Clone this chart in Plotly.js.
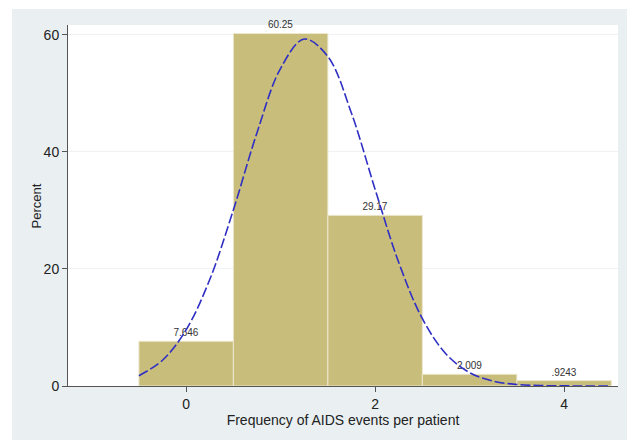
<!DOCTYPE html>
<html>
<head>
<meta charset="utf-8">
<script src="https://cdn.plot.ly/plotly-3.0.1.min.js"></script>
<style>html,body{margin:0;padding:0;background:#fff;}#chart{width:627px;height:440px;}</style>
</head>
<body>
<div id="chart"></div>
<script>
// Histogram bins (AIDS events per patient) and their percentages
var binCenters = [0, 1, 2, 3, 4];
var percents = [7.646, 60.25, 29.17, 2.009, 0.9243];
var barLabels = ["7.646", "60.25", "29.17", "2.009", ".9243"];

// Overlaid normal density curve
var curveX = [-0.5, -0.25, 0, 0.25, 0.5, 0.75, 1.0, 1.25, 1.5, 1.75, 2.0, 2.25, 2.5, 2.75, 3.0, 3.25, 3.5, 3.75, 4.0, 4.25, 4.5];
var curveY = [1.76, 4.4, 9.6, 18.2, 30.1, 43.3, 54.3, 59.3, 56.3, 46.6, 33.6, 21.1, 11.5, 5.48, 2.27, 0.82, 0.26, 0.07, 0.02, 0.0, 0.0];

var xTicks = [0, 2, 4];
var yTicks = [0, 20, 40, 60];
var xTitle = 'Frequency of AIDS events per patient';
var yTitle = 'Percent';

var bars = {
  type: 'bar',
  x: binCenters,
  y: percents,
  width: 1,
  text: barLabels,
  textposition: 'outside',
  cliponaxis: false,
  textfont: {family: 'Liberation Sans, Arial, sans-serif', size: 10, color: '#333'},
  marker: {color: '#c9bd7b', line: {color: '#ece8cf', width: 1}},
  hoverinfo: 'x+y'
};
var curve = {
  type: 'scatter',
  mode: 'lines',
  x: curveX,
  y: curveY,
  line: {color: '#2f2fc4', width: 1.6, dash: '10px,3px', shape: 'spline', smoothing: 1},
  hoverinfo: 'x+y'
};

var layout = {
  width: 627, height: 440,
  margin: {l: 68, r: 9, t: 25, b: 54, pad: 0},
  paper_bgcolor: '#eaf0f2',
  plot_bgcolor: '#ffffff',
  showlegend: false,
  bargap: 0,
  font: {family: 'Liberation Sans, Arial, sans-serif', color: '#222'},
  xaxis: {
    range: [-1.25, 4.57],
    tickvals: xTicks,
    ticktext: xTicks.map(String),
    ticks: 'outside', ticklen: 5, tickcolor: '#555', tickwidth: 1,
    showline: true, linecolor: '#555', linewidth: 1,
    showgrid: false, zeroline: false,
    tickfont: {size: 14, color: '#222'},
    title: {text: xTitle, font: {size: 14, color: '#222'}, standoff: 2}
  },
  yaxis: {
    range: [0, 61.7],
    tickvals: yTicks,
    ticktext: yTicks.map(String),
    ticks: 'outside', ticklen: 5, tickcolor: '#555', tickwidth: 1,
    showline: true, linecolor: '#555', linewidth: 1,
    showgrid: true, gridcolor: '#eef2f4', gridwidth: 1,
    zeroline: false,
    tickfont: {size: 14, color: '#222'}
  },
  annotations: [
    {text: yTitle, xref: 'paper', yref: 'paper', x: -0.0564, y: 0.5, textangle: -90,
     showarrow: false, xanchor: 'center', yanchor: 'middle',
     font: {size: 13, color: '#222'}}
  ],
  shapes: [
    {type: 'rect', xref: 'paper', yref: 'paper', x0: -0.2, x1: 1.1, y0: 1.0443, y1: 1.2,
     fillcolor: '#ffffff', line: {width: 0}, layer: 'below'},
    {type: 'rect', xref: 'paper', yref: 'paper', x0: -0.2, x1: -0.1018, y0: -0.3, y1: 1.2,
     fillcolor: '#ffffff', line: {width: 0}, layer: 'below'}
  ]
};

Plotly.newPlot('chart', [bars, curve], layout, {displayModeBar: false, staticPlot: true});
</script>
</body>
</html>
